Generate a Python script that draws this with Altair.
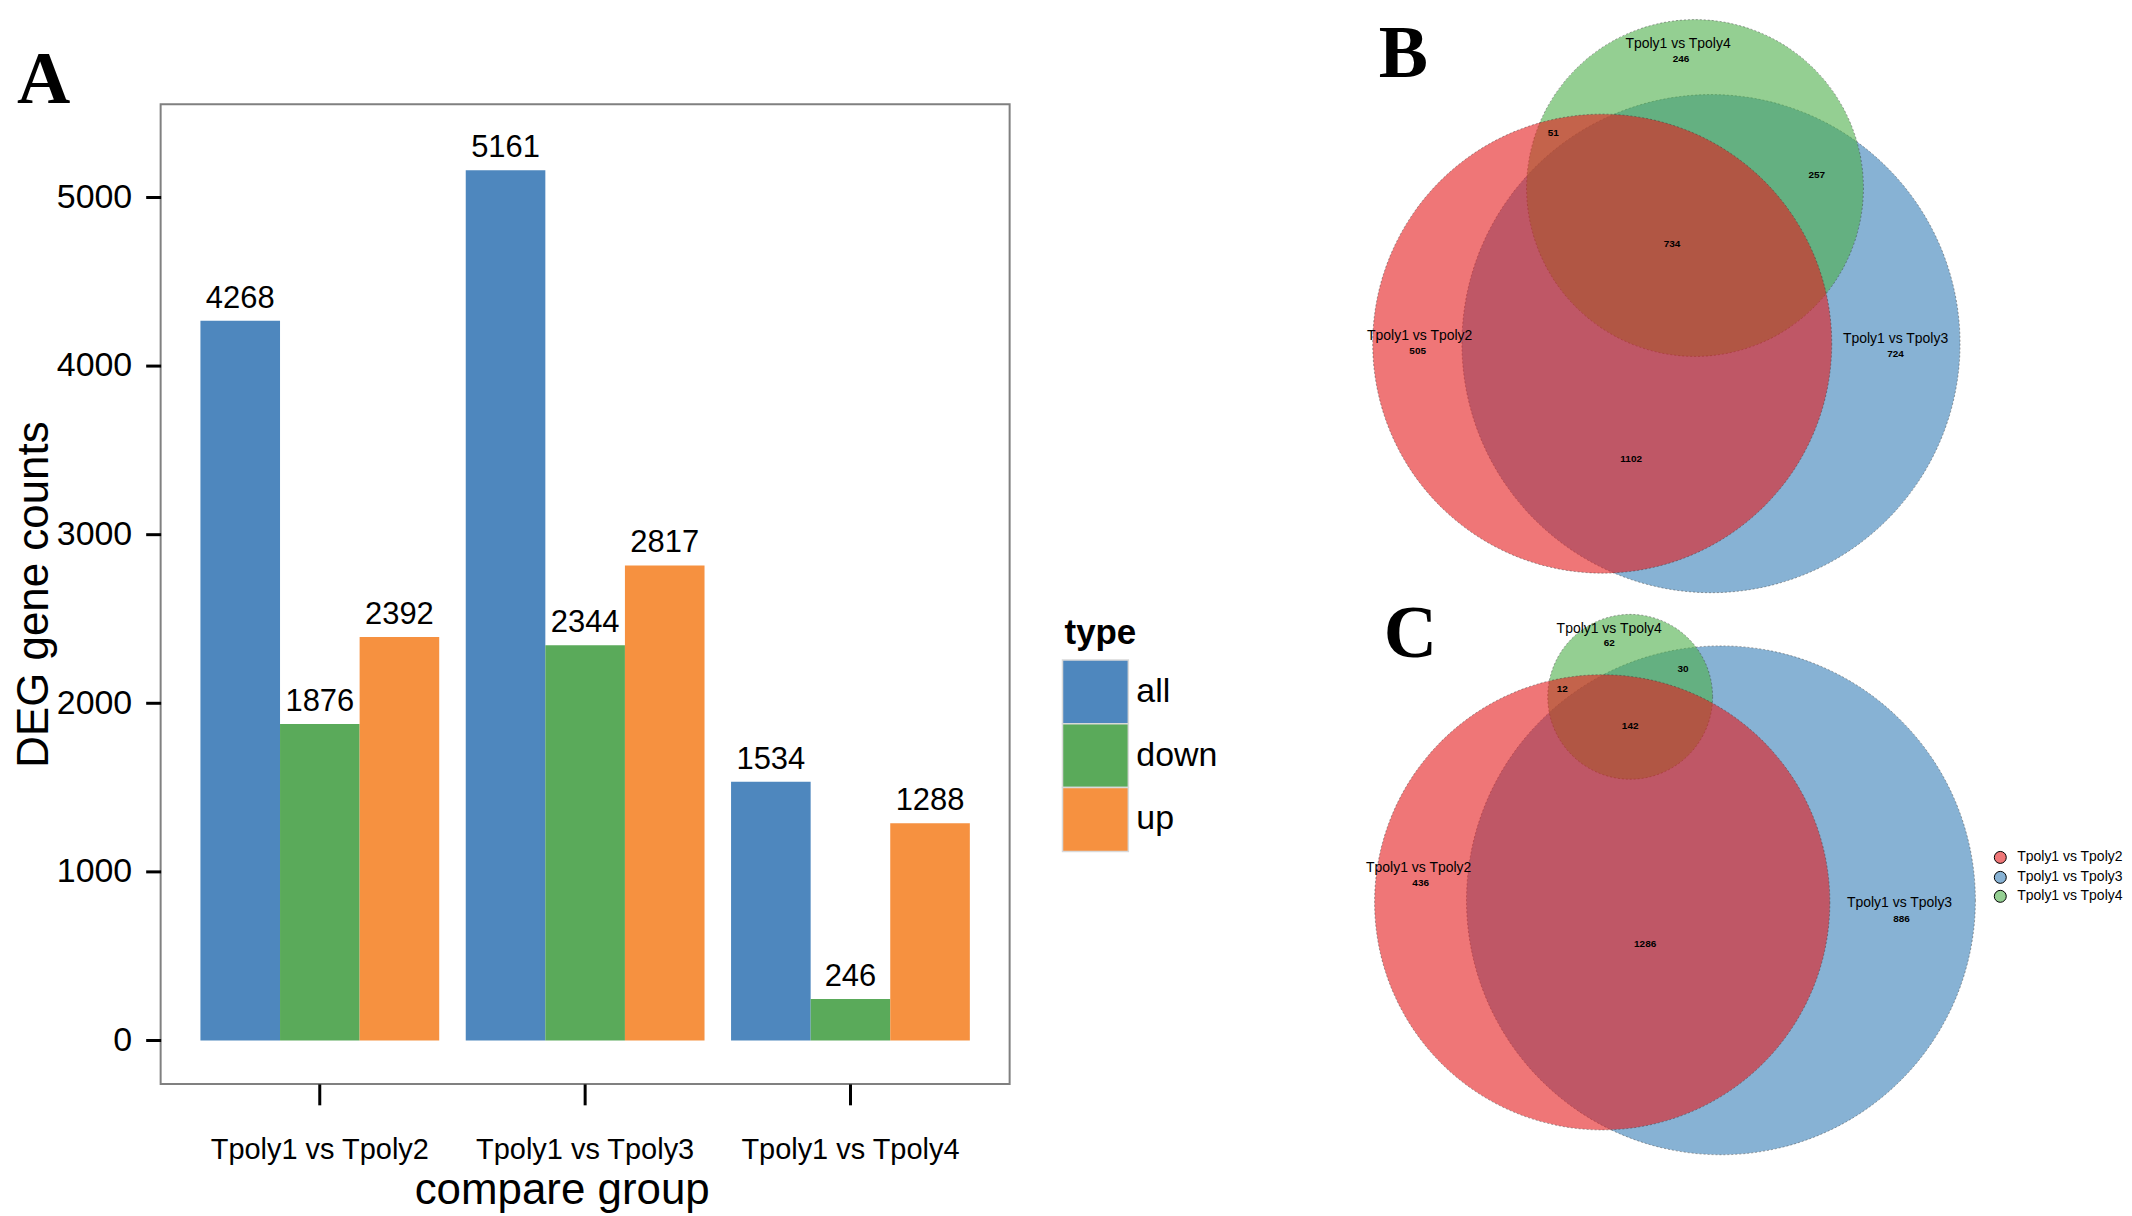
import altair as alt
import pandas as pd

# ---------------- data: panel A (bar chart) ----------------
groups = ["Tpoly1 vs Tpoly2", "Tpoly1 vs Tpoly3", "Tpoly1 vs Tpoly4"]
types = ["all", "down", "up"]
all_counts = [4268, 5161, 1534]
down_counts = [1876, 2344, 246]
up_counts = [2392, 2817, 1288]
type_colors = ["#4E87BE", "#5AAA5A", "#F69140"]

# ---------------- data: panels B / C (Venn diagrams) ----------------
sets = ["Tpoly1 vs Tpoly2", "Tpoly1 vs Tpoly3", "Tpoly1 vs Tpoly4"]
set_keys = ["2", "3", "4"]
set_colors = ["#E41A1C", "#377EB8", "#4DAF4A"]
region_keys = ["2", "3", "4", "2&4", "3&4", "2&3&4", "2&3"]
venn_up_counts = [505, 724, 246, 51, 257, 734, 1102]      # panel B
venn_down_counts = [436, 886, 62, 12, 30, 142, 1286]      # panel C

# ---------------- diagram layout (figure drawing units) ----------------
b_centers = {"2": (1601, 342), "3": (1710, 342), "4": (1694, 186)}
c_centers = {"2": (1601, 902), "3": (1720, 900), "4": (1629, 696)}
b_set_label_pos = {"2": (1418, 334), "3": (1895, 337), "4": (1677, 42)}
c_set_label_pos = {"2": (1417, 868), "3": (1899, 903), "4": (1608, 628)}
b_count_pos = {"2": (1416, 349), "3": (1895, 352), "4": (1680, 57), "2&4": (1552, 131),
               "3&4": (1816, 173), "2&3&4": (1671, 242), "2&3": (1630, 458)}
c_count_pos = {"2": (1419, 883), "3": (1901, 919), "4": (1608, 642), "2&4": (1561, 688),
               "3&4": (1682, 668), "2&3&4": (1629, 725), "2&3": (1644, 944)}
panel_letter_pos = {"B": (1377, 75), "C": (1382, 656)}
legend_pos = {"2": (2000, 857), "3": (2000, 877), "4": (2000, 896)}
legend_label_x = 2017
draw_order = {"3": 0, "4": 1, "2": 2}
area_per_gene_b = 88.5
area_per_gene_c = 111.0

SANS = "Liberation Sans"
SERIF = "Liberation Serif"

# ---------------- panel A ----------------
rows = []
for i, g in enumerate(groups):
    for t, vals in zip(types, [all_counts, down_counts, up_counts]):
        rows.append({"group": g, "type": t, "count": vals[i]})
bar_df = pd.DataFrame(rows)
type_df = pd.DataFrame({"type": types})

x_enc = alt.X(
    "group:N", sort=groups,
    scale=alt.Scale(paddingInner=0.1, paddingOuter=0.15),
    axis=alt.Axis(
        title="compare group", titleFontSize=44, titleFont=SANS, titleFontWeight="normal",
        titleColor="black", titleX=402, titleY=85, titleBaseline="top", titleAlign="center",
        labelFontSize=29, labelFont=SANS, labelColor="black", labelPadding=31, labelAngle=0,
        labelLimit=500, tickSize=21, tickWidth=3, tickColor="black", domain=False,
        grid=False, bandPosition=0.5,
    ),
)
xo_enc = alt.XOffset("type:N", sort=types, scale=alt.Scale(paddingInner=0, paddingOuter=0))
y_scale = alt.Scale(domain=[-258, 5553], nice=False, zero=False)
y_enc = alt.Y(
    "count:Q", scale=y_scale,
    axis=alt.Axis(
        title="DEG gene counts", titleFontSize=44, titleFont=SANS, titleFontWeight="normal",
        titleColor="black", titleX=-126, titleY=491, titleAngle=270, titleBaseline="middle",
        titleAlign="center", values=[0, 1000, 2000, 3000, 4000, 5000], format="d",
        labelFontSize=34, labelFont=SANS, labelColor="black", labelPadding=14,
        tickSize=15, tickWidth=3, tickColor="black", domain=False, grid=False,
    ),
)
type_color = alt.Color("type:N", sort=types, scale=alt.Scale(domain=types, range=type_colors),
                       legend=None)

bars = alt.Chart(bar_df).mark_bar(strokeWidth=0).encode(
    x=x_enc, xOffset=xo_enc, y=y_enc, y2=alt.datum(0), color=type_color,
)
bar_text = alt.Chart(bar_df).mark_text(
    baseline="alphabetic", dy=-13, fontSize=31, font=SANS, color="black"
).encode(x=x_enc, xOffset=xo_enc, y=y_enc, text=alt.Text("count:Q", format="d"))

letter_a = alt.Chart(pd.DataFrame({"t": ["A"]})).mark_text(
    font=SERIF, fontWeight="bold", fontSize=74, align="left", baseline="alphabetic", color="black"
).encode(text="t:N", x=alt.value(-144), y=alt.value(-1))

# legend for panel A (swatches stacked without gaps, like ggplot)
leg_y = alt.Y("type:N", sort=types,
              scale=alt.Scale(domain=types, range=[557, 749], paddingInner=0, paddingOuter=0),
              axis=None)
leg_rect = alt.Chart(type_df).mark_rect(stroke="#d9d9d9", strokeWidth=1.5).encode(
    x=alt.value(904), x2=alt.value(970), y=leg_y, color=type_color,
)
leg_label = alt.Chart(type_df).mark_text(
    font=SANS, fontSize=34, color="black", align="left", baseline="middle"
).encode(x=alt.value(978), y=leg_y, text="type:N")
leg_title = alt.Chart(pd.DataFrame({"t": ["type"]})).mark_text(
    font=SANS, fontSize=35, fontWeight="bold", color="black", align="left", baseline="alphabetic"
).encode(x=alt.value(906), y=alt.value(541), text="t:N")

panel_a = alt.layer(
    alt.layer(bars, bar_text, letter_a),
    alt.layer(leg_rect, leg_label, leg_title),
).resolve_scale(y="independent").properties(
    width=851, height=982,
    view=alt.ViewBackground(stroke="#808080", strokeWidth=2, fill="white"),
)

# ---------------- panels B and C ----------------
def set_totals(counts):
    return [sum(c for k, c in zip(region_keys, counts) if s in k.split("&")) for s in set_keys]

def circle_df(counts, centers):
    tot = set_totals(counts)
    return pd.DataFrame([
        {"set": sets[i], "total": tot[i], "cx": centers[k][0], "cy": centers[k][1], "z": draw_order[k]}
        for i, k in enumerate(set_keys)
    ])

xs = alt.Scale(domain=[1360, 2124], nice=False, zero=False)
ys = alt.Scale(domain=[102, 1084], nice=False, zero=False, reverse=True)
set_color = alt.Color("set:N", scale=alt.Scale(domain=sets, range=set_colors), legend=None)

def circles(df, k):
    return alt.Chart(df).mark_circle(
        opacity=1, fillOpacity=0.6, stroke="#333333", strokeWidth=1,
        strokeDash=[2, 2], strokeOpacity=0.45,
    ).encode(
        x=alt.X("cx:Q", scale=xs, axis=None),
        y=alt.Y("cy:Q", scale=ys, axis=None),
        size=alt.Size("total:Q", scale=alt.Scale(type="linear", zero=True, domain=[0, 1000],
                                                 range=[0, k * 1000]), legend=None),
        color=set_color,
        order=alt.Order("z:Q", sort="ascending"),
    )

circ_b = circles(circle_df(venn_up_counts, b_centers), area_per_gene_b)
circ_c = circles(circle_df(venn_down_counts, c_centers), area_per_gene_c)

set_label_rows = []
for pos in [b_set_label_pos, c_set_label_pos]:
    for i, k in enumerate(set_keys):
        set_label_rows.append({"text": sets[i], "x": pos[k][0], "y": pos[k][1]})
count_rows = []
for counts, pos in [(venn_up_counts, b_count_pos), (venn_down_counts, c_count_pos)]:
    for k, c in zip(region_keys, counts):
        count_rows.append({"text": str(c), "x": pos[k][0], "y": pos[k][1]})
letter_rows = [{"text": t, "x": p[0], "y": p[1]} for t, p in panel_letter_pos.items()]
legend_rows = [{"set": sets[i], "x": legend_pos[k][0], "y": legend_pos[k][1], "lx": legend_label_x}
               for i, k in enumerate(set_keys)]

def txt(df, **kw):
    return alt.Chart(pd.DataFrame(df)).mark_text(**kw).encode(
        x=alt.X("x:Q", scale=xs, axis=None),
        y=alt.Y("y:Q", scale=ys, axis=None),
        text="text:N",
    )

set_labels = txt(set_label_rows, font=SANS, fontSize=14, color="black", baseline="middle", align="center")
count_labels = txt(count_rows, font=SANS, fontSize=10, fontWeight="bold", color="black",
                   baseline="middle", align="center")
letters = txt(letter_rows, font=SERIF, fontSize=74, fontWeight="bold", color="black",
              baseline="alphabetic", align="left")

leg_df = pd.DataFrame(legend_rows)
leg_pts = alt.Chart(leg_df).mark_circle(
    size=144, opacity=1, fillOpacity=0.6, stroke="black", strokeWidth=1
).encode(
    x=alt.X("x:Q", scale=xs, axis=None), y=alt.Y("y:Q", scale=ys, axis=None), color=set_color
)
leg_txt = alt.Chart(leg_df).mark_text(
    font=SANS, fontSize=14, color="black", align="left", baseline="middle"
).encode(
    x=alt.X("lx:Q", scale=xs, axis=None), y=alt.Y("y:Q", scale=ys, axis=None), text="set:N"
)

panel_venn = alt.layer(
    circ_b, circ_c, set_labels, count_labels, letters, leg_pts, leg_txt
).resolve_scale(size="independent").properties(
    width=764, height=982,
    view=alt.ViewBackground(stroke="transparent", strokeWidth=0),
)

chart = alt.hconcat(panel_a, panel_venn, spacing=353, bounds="flush").resolve_scale(
    color="independent", size="independent"
).properties(padding={"left": 4, "top": 8, "right": 0, "bottom": 0}, background="white")

chart.save("out.html", embed_options={"renderer": "svg", "actions": False})
